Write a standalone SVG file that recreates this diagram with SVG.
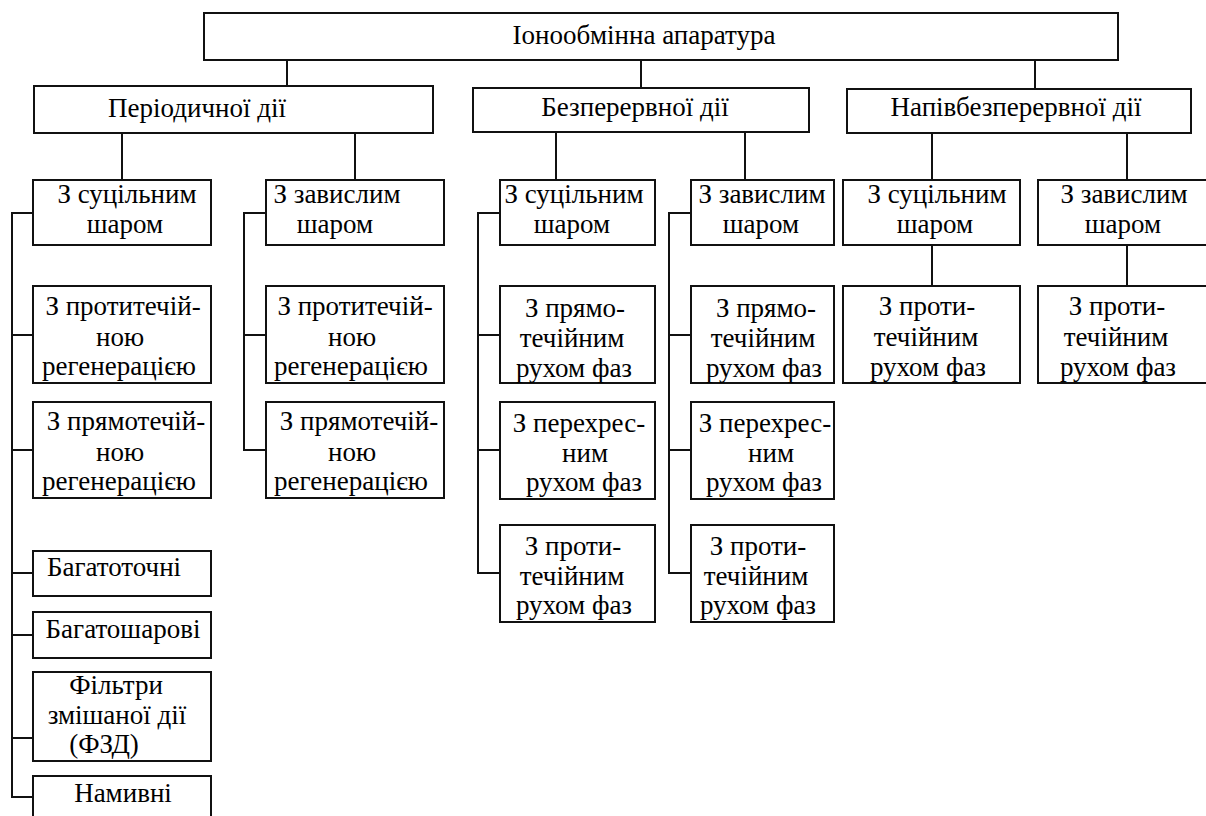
<svg xmlns="http://www.w3.org/2000/svg" width="1206" height="816" viewBox="0 0 1206 816">
<style>
rect{fill:#fff;stroke:#111;stroke-width:2}
.c path{fill:none;stroke:#111;stroke-width:2}
text{font-size:27px;fill:#000;text-anchor:middle}
</style>
<rect x="0" y="0" width="1206" height="816" style="stroke:none"/>
<g class="c" id="connectors">
<path d="M287,60V86M641,60V88M1035,60V89"/>
<path d="M122,133V180M355,133V180M556,132V180M745,132V180M932,133V180M1127,133V180"/>
<path d="M33,213H12V797H33M12,335H33M12,450H33M12,573H33M12,635H33M12,738H33"/>
<path d="M266,213H244V450H266M244,335H266"/>
<path d="M500,213H478V573H500M478,335H500M478,450H500"/>
<path d="M691,213H669V573H691M669,335H691M669,450H691"/>
<path d="M932,245V286M1127,245V286"/>
</g>
<g font-family="Liberation Serif, Times New Roman, Tinos, Noto Serif, DejaVu Serif, FreeSerif, serif">
<g id="root"><rect x="204" y="13" width="914" height="47"/><text x="644" y="44">Іонообмінна апаратура</text></g>
<g id="periodic"><rect x="34" y="86" width="399" height="47"/><text x="197" y="117">Періодичної дії</text></g>
<g id="continuous"><rect x="473" y="88" width="336" height="44"/><text x="635" y="116">Безперервної дії</text></g>
<g id="semicont"><rect x="847" y="89" width="344" height="44"/><text x="1016" y="116">Напівбезперервної дії</text></g>

<g id="p-solid"><rect x="33" y="180" width="178" height="65"/><text x="127" y="203">З суцільним</text><text x="125" y="233">шаром</text></g>
<g id="p-susp"><rect x="266" y="180" width="178" height="65"/><text x="337" y="203">З завислим</text><text x="335" y="233">шаром</text></g>
<g id="c-solid"><rect x="500" y="180" width="155" height="65"/><text x="574" y="203">З суцільним</text><text x="572" y="233">шаром</text></g>
<g id="c-susp"><rect x="691" y="180" width="143" height="65"/><text x="762" y="203">З завислим</text><text x="761" y="233">шаром</text></g>
<g id="s-solid"><rect x="843" y="180" width="177" height="65"/><text x="937" y="203">З суцільним</text><text x="935" y="233">шаром</text></g>
<g id="s-susp"><rect x="1038" y="180" width="170" height="65"/><text x="1124" y="203">З завислим</text><text x="1123" y="233">шаром</text></g>

<g id="p1-counter"><rect x="33" y="286" width="178" height="97"/><text x="123" y="315">З протитечій-</text><text x="120" y="346">ною</text><text x="119" y="375">регенерацією</text></g>
<g id="p1-direct"><rect x="33" y="402" width="178" height="96"/><text x="126" y="430">З прямотечій-</text><text x="120" y="461">ною</text><text x="119" y="490">регенерацією</text></g>
<g id="p1-multipoint"><rect x="33" y="551" width="178" height="45"/><text x="114" y="576">Багатоточні</text></g>
<g id="p1-multilayer"><rect x="33" y="612" width="178" height="46"/><text x="123" y="638">Багатошарові</text></g>
<g id="p1-filters"><rect x="33" y="672" width="178" height="89"/><text x="116" y="694">Фільтри</text><text x="117" y="724">змішаної дії</text><text x="104" y="753">(ФЗД)</text></g>
<g id="p1-precoat"><rect x="33" y="776" width="178" height="50"/><text x="123" y="802">Намивні</text></g>

<g id="p2-counter"><rect x="266" y="286" width="178" height="97"/><text x="355" y="315">З протитечій-</text><text x="352" y="346">ною</text><text x="351" y="375">регенерацією</text></g>
<g id="p2-direct"><rect x="266" y="402" width="178" height="96"/><text x="359" y="430">З прямотечій-</text><text x="352" y="461">ною</text><text x="351" y="490">регенерацією</text></g>

<g id="c1-direct"><rect x="500" y="286" width="155" height="97"/><text x="575" y="317">З прямо-</text><text x="572" y="347">течійним</text><text x="574" y="377">рухом фаз</text></g>
<g id="c1-cross"><rect x="500" y="402" width="155" height="97"/><text x="579" y="432">З перехрес-</text><text x="585" y="462">ним</text><text x="584" y="491">рухом фаз</text></g>
<g id="c1-counter"><rect x="500" y="525" width="155" height="97"/><text x="573" y="555">З проти-</text><text x="572" y="585">течійним</text><text x="574" y="614">рухом фаз</text></g>

<g id="c2-direct"><rect x="691" y="286" width="143" height="97"/><text x="766" y="317">З прямо-</text><text x="763" y="347">течійним</text><text x="764" y="377">рухом фаз</text></g>
<g id="c2-cross"><rect x="691" y="402" width="143" height="97"/><text x="765" y="432">З перехрес-</text><text x="771" y="462">ним</text><text x="764" y="491">рухом фаз</text></g>
<g id="c2-counter"><rect x="691" y="525" width="143" height="97"/><text x="758" y="555">З проти-</text><text x="756" y="585">течійним</text><text x="758" y="614">рухом фаз</text></g>

<g id="s1-counter"><rect x="843" y="286" width="177" height="97"/><text x="927" y="315">З проти-</text><text x="926" y="346">течійним</text><text x="928" y="376">рухом фаз</text></g>
<g id="s2-counter"><rect x="1038" y="286" width="170" height="97"/><text x="1117" y="315">З проти-</text><text x="1116" y="346">течійним</text><text x="1118" y="376">рухом фаз</text></g>
</g>
</svg>
